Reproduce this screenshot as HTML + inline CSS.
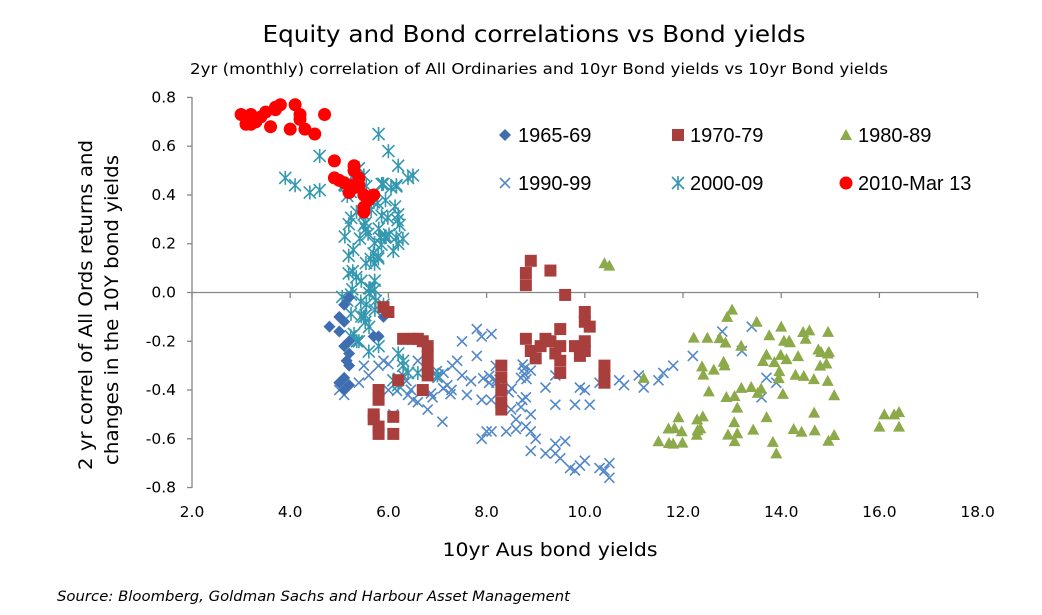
<!DOCTYPE html>
<html><head><meta charset="utf-8">
<style>
body{margin:0;background:#fff;}
svg text{fill:#000;}
</style></head><body>
<svg id="s" width="1042" height="610" xmlns="http://www.w3.org/2000/svg" font-family="DejaVu Sans, sans-serif">
<rect width="1042" height="610" fill="#fff"/>
<text x="534" y="42" font-size="23" text-anchor="middle" textLength="543" lengthAdjust="spacingAndGlyphs">Equity and Bond correlations vs Bond yields</text>
<text x="539" y="74" font-size="15" text-anchor="middle" textLength="698" lengthAdjust="spacingAndGlyphs">2yr (monthly) correlation of All Ordinaries and 10yr Bond yields vs 10yr Bond yields</text>
<g stroke="#868686" stroke-width="1.3">
<line x1="192" y1="97" x2="192" y2="488"/>
<line x1="192" y1="292.5" x2="978" y2="292.5"/>
</g>
<g id="ticks" stroke="#868686" stroke-width="1.3"></g>
<g id="lbl" font-size="15.5"></g>
<g id="pts"></g>
<text x="550" y="556" font-size="19" text-anchor="middle" textLength="215" lengthAdjust="spacingAndGlyphs">10yr Aus bond yields</text>
<text transform="translate(92,305) rotate(-90)" font-size="19" text-anchor="middle" textLength="330" lengthAdjust="spacingAndGlyphs">2 yr correl of All Ords returns and</text>
<text transform="translate(118,310) rotate(-90)" font-size="19" text-anchor="middle" textLength="310" lengthAdjust="spacingAndGlyphs">changes in the 10Y bond yields</text>
<text x="57" y="601" font-size="14" font-style="italic" textLength="513" lengthAdjust="spacingAndGlyphs">Source: Bloomberg, Goldman Sachs and Harbour Asset Management</text>
<g font-family="Liberation Sans, sans-serif" font-size="20">
<text x="518" y="142">1965-69</text>
<text x="690" y="142">1970-79</text>
<text x="858" y="142">1980-89</text>
<text x="518" y="190">1990-99</text>
<text x="690" y="190">2000-09</text>
<text x="858" y="190">2010-Mar 13</text>
</g>
<g id="leg"></g>
</svg>
<script>
var NS="http://www.w3.org/2000/svg";
function X(v){return 192+(v-2)*49.1;}
function Y(v){return 292.5-v*243.8;}
function el(p,t,a){var e=document.createElementNS(NS,t);for(var k in a)e.setAttribute(k,a[k]);p.appendChild(e);return e;}
var tk=document.getElementById('ticks'),lb=document.getElementById('lbl');
for(var i=0;i<=8;i++){var x=X(2+2*i);el(tk,'line',{x1:x,y1:292.5,x2:x,y2:298});var t=el(lb,'text',{x:x,y:517,'text-anchor':'middle'});t.textContent=(2+2*i).toFixed(1);}
for(var i=0;i<=8;i++){var v=0.8-0.2*i,y=Y(v);el(tk,'line',{x1:187,y1:y,x2:192,y2:y});var t=el(lb,'text',{x:176,y:y+5,'text-anchor':'end'});t.textContent=(Math.abs(v)<1e-9?0:v).toFixed(1);}
var P=document.getElementById('pts');
var seed=7;function R(){seed=(seed*16807)%2147483647;return (seed-1)/2147483646;}
function diamond(g,x,y,c){el(g,'polygon',{points:(x)+','+(y-6)+' '+(x+6)+','+y+' '+x+','+(y+6)+' '+(x-6)+','+y,fill:c});}
function square(g,x,y,c){el(g,'rect',{x:x-6,y:y-6,width:12,height:12,fill:c});}
function tri(g,x,y,c){el(g,'polygon',{points:x+','+(y-6)+' '+(x+6)+','+(y+5)+' '+(x-6)+','+(y+5),fill:c});}
function cross(g,x,y,c){el(g,'path',{d:'M'+(x-5)+' '+(y-5)+'L'+(x+5)+' '+(y+5)+'M'+(x+5)+' '+(y-5)+'L'+(x-5)+' '+(y+5),stroke:c,'stroke-width':1.6,fill:'none'});}
function star(g,x,y,c){el(g,'path',{d:'M'+(x-6)+' '+(y-6)+'L'+(x+6)+' '+(y+6)+'M'+(x+6)+' '+(y-6)+'L'+(x-6)+' '+(y+6)+'M'+x+' '+(y-7)+'L'+x+' '+(y+7),stroke:c,'stroke-width':1.6,fill:'none'});}
function circ(g,x,y,c){el(g,'circle',{cx:x,cy:y,r:6.5,fill:c});}
var CD='#3E6DB0',CS='#A83F3C',CT='#8CAA4A',CX='#5287C8',CA='#3398B0',CR='#FF0000';
function pl(f,c,arr){for(var i=0;i<arr.length;i++)f(P,X(arr[i][0]),Y(arr[i][1]),c);}
function rnd(n,x0,x1,y0,y1){var a=[];for(var i=0;i<n;i++)a.push([x0+R()*(x1-x0),y0+R()*(y1-y0)]);return a;}
var xs=[[7.8,-0.15],[8.1,-0.17],[7.5,-0.2],[7.9,-0.18],[7.8,-0.26],[8.3,-0.3],[8.2,-0.37],[8.7,-0.35],[8.9,-0.32],[9.4,-0.34],[9.2,-0.39],[7.1,-0.53],[7.4,-0.28],[7.5,-0.34],[7.6,-0.42],[7.9,-0.44],[8.0,-0.57],[8.1,-0.57],[7.9,-0.6],[8.4,-0.57],[8.6,-0.56],[8.8,-0.55],[8.9,-0.57],[9.0,-0.6],[8.9,-0.65],[9.2,-0.66],[9.4,-0.66],[9.4,-0.62],[9.6,-0.61],[9.5,-0.68],[9.7,-0.72],[9.8,-0.73],[9.9,-0.71],[10.0,-0.69],[10.3,-0.72],[10.4,-0.73],[10.5,-0.7],[10.5,-0.76],[9.4,-0.46],[9.8,-0.46],[10.1,-0.46],[9.9,-0.39],[10.0,-0.4],[10.3,-0.37],[10.7,-0.36],[10.8,-0.38],[11.1,-0.34],[11.2,-0.39],[11.5,-0.36],[11.6,-0.33],[11.8,-0.3],[12.2,-0.26],[12.8,-0.16],[13.4,-0.14],[13.2,-0.24],[13.7,-0.35],[13.6,-0.43],[13.9,-0.37],[8.7,-0.47],[8.8,-0.43],[8.9,-0.5],[8.6,-0.52],[8.5,-0.48],[6.6,-0.45],[6.5,-0.44],[6.8,-0.48],[6.9,-0.43],[6.6,-0.28],[6.3,-0.34],[6.1,-0.5],[5.9,-0.28],[5.8,-0.3],[5.5,-0.3],[5.4,-0.37],[5.6,-0.34],[5.0,-0.4],[5.1,-0.42],[6.0,-0.4],[6.2,-0.35],[7.3,-0.3],[7.0,-0.35],[7.2,-0.38],[6.4,-0.42]];
xs=xs.concat(rnd(25,6.0,9.0,-0.45,-0.28));
pl(cross,CX,xs);
var as=[[5.8,0.65],[6.0,0.58],[6.2,0.52],[6.4,0.47],[6.5,0.48],[4.6,0.56],[3.9,0.47],[4.1,0.44],[4.4,0.41],[4.6,0.42],[5.4,0.51],[5.5,0.48],[6.2,0.32],[6.1,0.17],[6.2,0.2]];
as=as.concat(rnd(45,5.1,6.3,0.15,0.47),rnd(20,5.1,5.8,-0.08,0.15),rnd(10,5.0,5.8,-0.25,0.05),[[6.2,-0.25],[6.3,-0.3],[6.2,-0.38],[6.4,-0.33],[6.6,-0.33],[7.0,-0.34],[6.1,-0.36],[5.8,-0.22],[5.9,-0.05],[5.5,-0.1],[5.3,-0.17],[5.4,-0.2],[6.3,-0.28]]);
pl(star,CA,as);
var ds=[[4.8,-0.14],[5.0,-0.1],[5.0,-0.16],[5.1,-0.12],[5.1,-0.22],[5.2,-0.25],[5.2,-0.3],[5.1,-0.35],[5.0,-0.37],[5.1,-0.4],[5.2,-0.38],[5.1,-0.05],[5.2,-0.02],[5.9,-0.1],[5.8,-0.18],[5.7,-0.18],[5.2,-0.2],[5.15,-0.28]];
pl(diamond,CD,ds);
var ss=[[5.9,-0.06],[6.0,-0.08],[6.3,-0.19],[6.5,-0.19],[6.6,-0.19],[6.7,-0.2],[6.8,-0.22],[6.8,-0.26],[6.8,-0.3],[6.8,-0.34],[6.7,-0.4],[6.2,-0.36],[5.8,-0.4],[5.8,-0.44],[5.7,-0.5],[5.8,-0.55],[5.8,-0.58],[5.7,-0.52],[6.1,-0.51],[6.1,-0.58],[8.3,-0.3],[8.3,-0.35],[8.3,-0.4],[8.3,-0.45],[8.3,-0.48],[8.8,-0.19],[8.9,-0.24],[9.0,-0.27],[9.1,-0.22],[9.2,-0.19],[9.3,-0.2],[9.4,-0.25],[9.5,-0.28],[9.5,-0.33],[9.5,-0.15],[9.5,-0.22],[9.8,-0.22],[9.9,-0.26],[10.0,-0.2],[10.0,-0.08],[10.0,-0.12],[10.1,-0.14],[10.0,-0.24],[10.4,-0.3],[10.4,-0.34],[10.4,-0.37],[8.8,0.08],[8.8,0.03],[8.9,0.13],[9.3,0.09],[9.6,-0.01]];
pl(square,CS,ss);
var ts=[[10.4,0.12],[10.5,0.11],[11.2,-0.35],[13.0,-0.07],[12.9,-0.1],[13.5,-0.12],[14.0,-0.14],[16.3,-0.5],[16.4,-0.49],[16.4,-0.55],[16.0,-0.55],[16.1,-0.5],[13.9,-0.66],[11.5,-0.61],[11.8,-0.62]];
ts=ts.concat(rnd(70,11.7,15.1,-0.62,-0.15));
pl(tri,CT,ts);
var rs=[[3.0,0.73],[3.1,0.69],[3.2,0.73],[3.3,0.7],[3.4,0.72],[3.5,0.74],[3.6,0.68],[3.7,0.76],[3.8,0.77],[3.7,0.75],[4.1,0.77],[4.2,0.73],[4.2,0.71],[4.3,0.67],[4.5,0.65],[4.7,0.73],[4.0,0.67],[3.2,0.69],[4.9,0.54],[4.9,0.47],[5.1,0.45],[5.2,0.41],[5.3,0.43],[5.3,0.5],[5.3,0.52],[5.4,0.47],[5.5,0.4],[5.5,0.35],[5.5,0.33],[5.6,0.38],[5.7,0.4],[5.0,0.46],[5.2,0.44],[5.4,0.44]];
pl(circ,CR,rs);
var L=document.getElementById('leg');
diamond(L,505,135,CD);square(L,678,135,CS);tri(L,846,135,CT);cross(L,505,183,CX);star(L,678,183,CA);circ(L,846,183,CR);
</script>
</body></html>
